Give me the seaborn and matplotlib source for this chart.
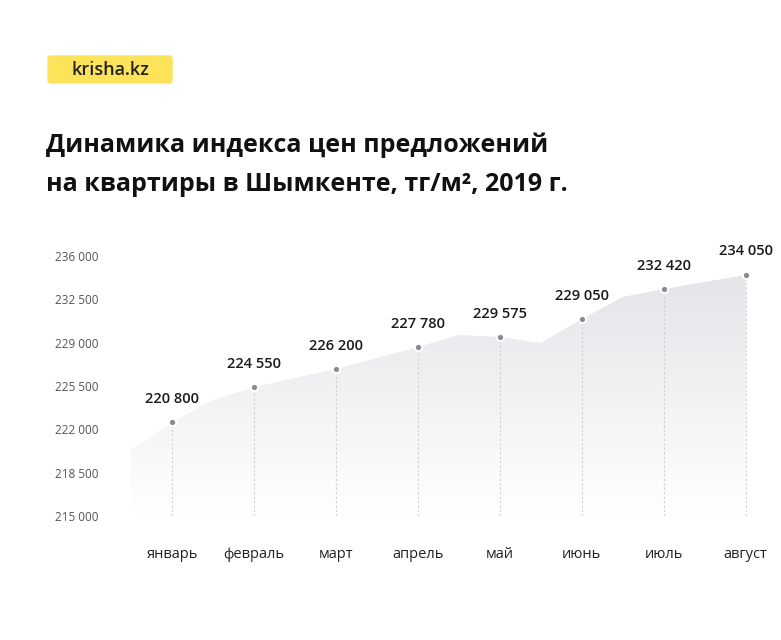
import numpy as np
import matplotlib.pyplot as plt
import seaborn as sns
from matplotlib.patches import FancyBboxPatch

months = ["январь", "февраль", "март", "апрель", "май", "июнь", "июль", "август"]
label_values = [220800, 224550, 226200, 227780, 229575, 229050, 232420, 234050]
# half-month positions of the curve and the values
curve_pos = [-0.5, 0, 0.5, 1, 1.5, 2, 2.5, 3, 3.5, 4, 4.5, 5, 5.5, 6, 6.5, 7]
curve_vals = [220330, 222590, 224370, 225420, 226150, 226870, 227760, 228650,
              229620, 229460, 228970, 230910, 232690, 233330, 233900, 234470]
yticks = [215000, 218500, 222000, 225500, 229000, 232500, 236000]

sns.set_theme(style="white", font="Open Sans")
fig = plt.figure(figsize=(7.81, 6.4), dpi=100)
ax = fig.add_axes([118 / 781, 124 / 640, 640 / 781, 260 / 640])
ax.set_xlim(-0.66, 7.15)
ax.set_ylim(215000, 236000)

# gradient fill under the curve
poly = ax.fill_between(curve_pos, curve_vals, 215000, color="none")
grad = np.linspace(0, 1, 256).reshape(-1, 1)
img = ax.imshow(grad, extent=[-0.5, 7, 215000, 236000], aspect="auto",
                cmap=sns.blend_palette(["#e3e3e8", "#ffffff"], as_cmap=True),
                origin="upper", zorder=1)
img.set_clip_path(poly.get_paths()[0], transform=ax.transData)

month_idx = list(range(len(months)))
month_curve = [curve_vals[curve_pos.index(i)] for i in month_idx]
for i, v in zip(month_idx, month_curve):
    ax.plot([i, i], [215000, v], ls=(0, (2, 2)), color="#cfcfd4", lw=0.8, zorder=2)
sns.scatterplot(x=month_idx, y=month_curve, ax=ax, s=28, color="#8a8a8f",
                edgecolor="white", linewidth=1.5, zorder=3)
for i, v, lab in zip(month_idx, month_curve, label_values):
    ax.annotate(f"{lab:,}".replace(",", " "), (i, v), xytext=(0, 14),
                textcoords="offset points", ha="center", fontsize=10.5,
                fontweight="semibold", color="#1a1a1a")

ax.set_yticks(yticks)
ax.set_yticklabels([f"{t:,}".replace(",", " ") for t in yticks], fontsize=8.5, color="#555555")
ax.set_xticks(month_idx)
ax.set_xticklabels(months, fontsize=10.5, color="#222222")
ax.tick_params(axis="x", length=0, pad=22)
ax.tick_params(axis="y", length=0, pad=14)
for s in ax.spines.values():
    s.set_visible(False)

# logo
fig.patches.append(FancyBboxPatch((48 / 781, 557 / 640), 124 / 781, 27 / 640,
                                  boxstyle="round,pad=0,rounding_size=0.004",
                                  transform=fig.transFigure, color="#fde35a"))
fig.text(110 / 781, 570 / 640, "krisha.kz", ha="center", va="center",
         fontsize=13, fontweight="semibold", color="#222222")
fig.text(46 / 781, 475 / 640, "Динамика индекса цен предложений\nна квартиры в Шымкенте, тг/м², 2019 г.",
         ha="left", va="center", fontsize=18, fontweight="bold", color="#111111",
         linespacing=1.75)

fig.savefig("out.png", dpi=100)
